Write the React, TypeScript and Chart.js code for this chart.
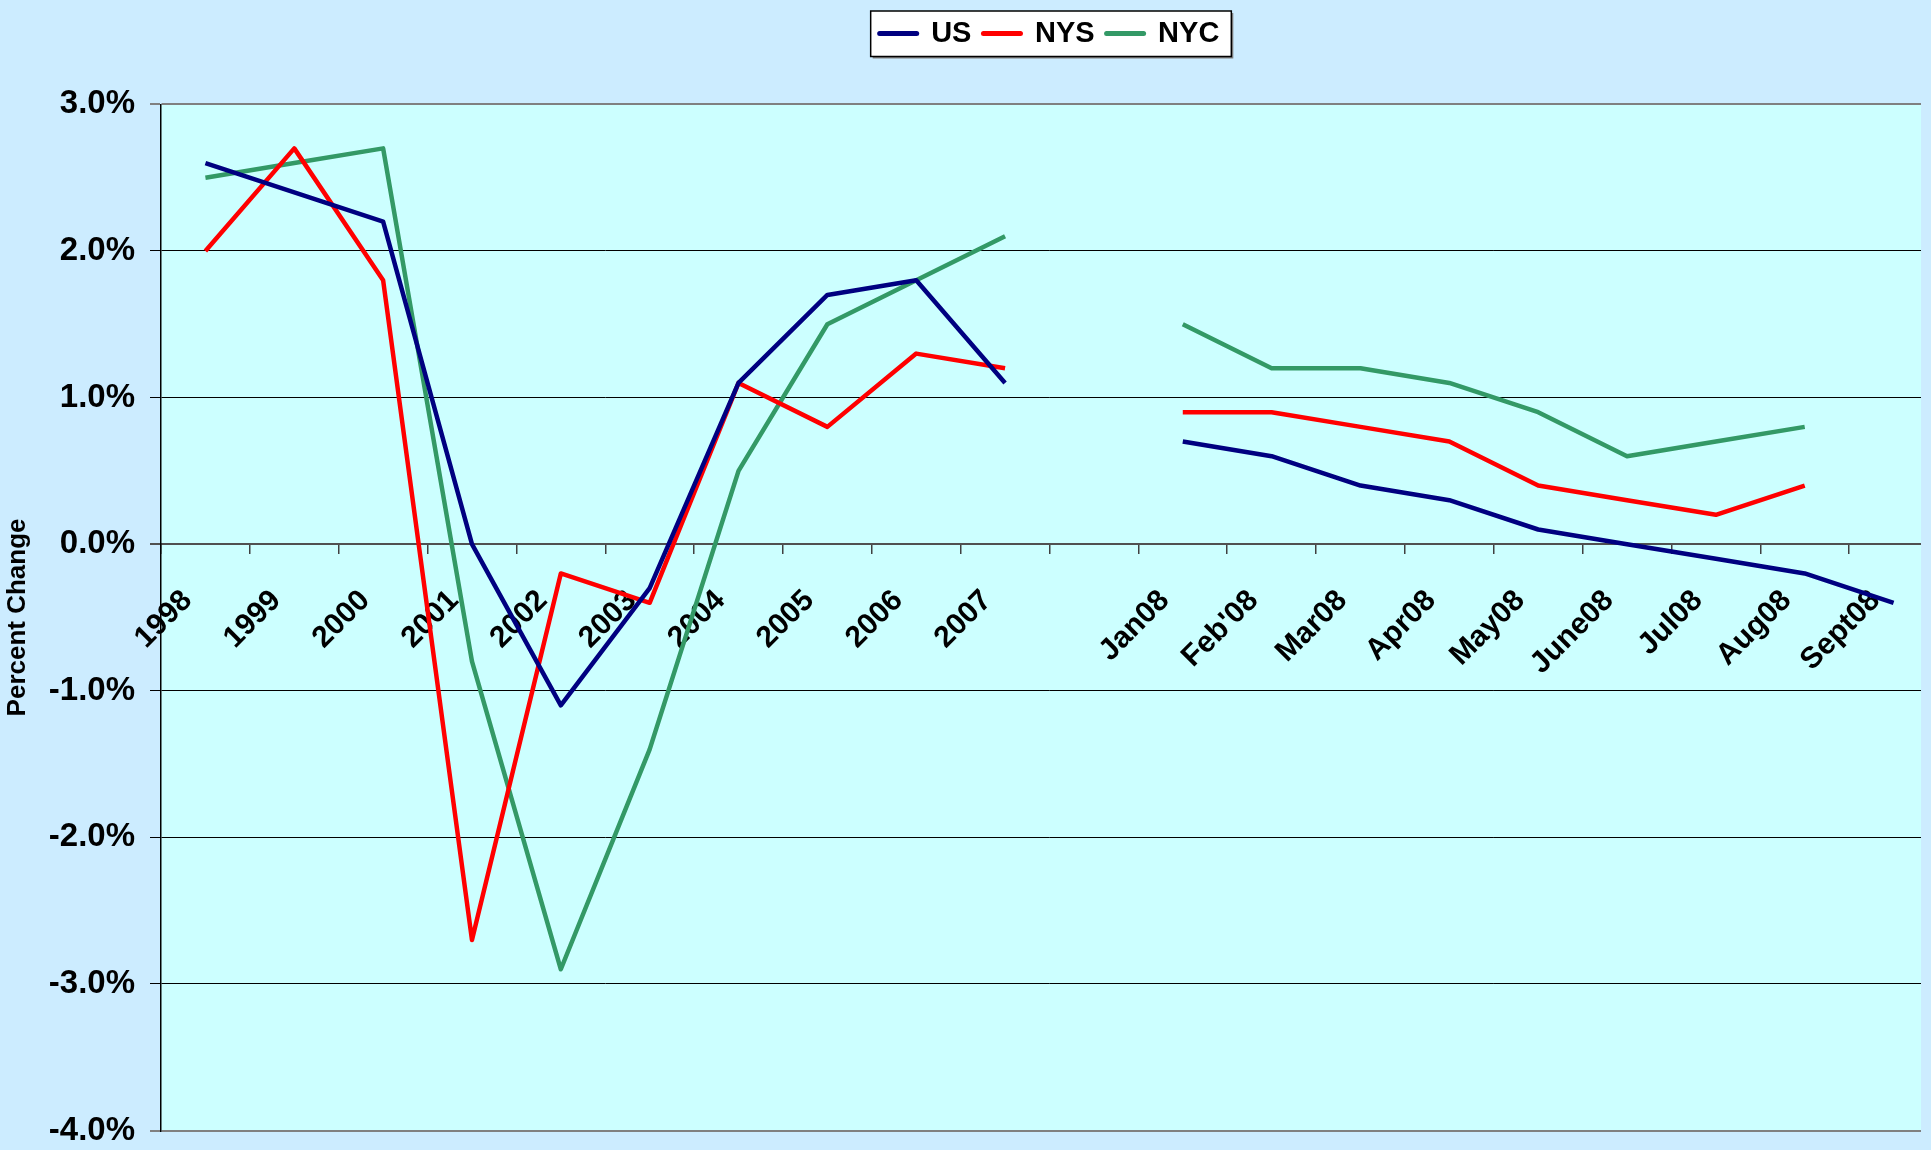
import React, { useEffect, useRef } from 'react';
import { Chart, registerables } from 'chart.js';

Chart.register(...registerables);

const FONT = "'Liberation Sans', Arial, sans-serif";

const categories = ['1998', '1999', '2000', '2001', '2002', '2003', '2004', '2005', '2006', '2007', '', 'Jan08', "Feb'08", 'Mar08', 'Apr08', 'May08', 'June08', 'Jul08', 'Aug08', 'Sept08'];
const usValues = [2.6, 2.4, 2.2, 0.0, -1.1, -0.3, 1.1, 1.7, 1.8, 1.1, null, 0.7, 0.6, 0.4, 0.3, 0.1, 0.0, -0.1, -0.2, -0.4];
const nysValues = [2.0, 2.7, 1.8, -2.7, -0.2, -0.4, 1.1, 0.8, 1.3, 1.2, null, 0.9, 0.9, 0.8, 0.7, 0.4, 0.3, 0.2, 0.4, null];
const nycValues = [2.5, 2.6, 2.7, -0.8, -2.9, -1.4, 0.5, 1.5, 1.8, 2.1, null, 1.5, 1.2, 1.2, 1.1, 0.9, 0.6, 0.7, 0.8, null];
const yMin = -4;
const yMax = 3;
const yStep = 1;

const OUTER_BG = '#CCECFF';
const PLOT_BG = '#CCFFFF';

const bgPlugin = {
  id: 'bgPlugin',
  beforeDraw(chart: any) {
    const { ctx, chartArea: a, width, height } = chart;
    ctx.save();
    ctx.fillStyle = OUTER_BG;
    ctx.fillRect(0, 0, width, height);
    ctx.fillStyle = PLOT_BG;
    ctx.fillRect(a.left, a.top, a.right - a.left, a.bottom - a.top);
    const lg = chart.legend;
    if (lg && lg.legendHitBoxes && lg.legendHitBoxes.length) {
      const hb = lg.legendHitBoxes;
      const last = hb[hb.length - 1];
      const cy = hb[0].top + hb[0].height / 2;
      const l = hb[0].left - 9;
      const r = last.left + last.width + 12;
      const t = cy - 22.5;
      const b = cy + 23;
      ctx.fillStyle = '#808080';
      ctx.fillRect(l + 2, t + 2, r - l, b - t);
      ctx.fillStyle = '#FFFFFF';
      ctx.fillRect(l, t, r - l, b - t);
      ctx.strokeStyle = '#000000';
      ctx.lineWidth = 1.5;
      ctx.strokeRect(l, t, r - l, b - t);
    }
    ctx.restore();
  },
  afterDraw(chart: any) {
    const { ctx, height } = chart;
    ctx.save();
    ctx.fillStyle = OUTER_BG;
    ctx.fillRect(1921, 0, chart.width - 1921, height);
    ctx.restore();
  },
};

export default function App() {
  const ref = useRef<HTMLCanvasElement | null>(null);

  useEffect(() => {
    if (!ref.current) return;
    const chart = new Chart(ref.current, {
      type: 'line',
      data: {
        labels: categories,
        datasets: [
          { label: 'US', data: usValues, borderColor: '#000080', backgroundColor: '#000080', borderWidth: 4.5, pointRadius: 0, tension: 0, spanGaps: false, borderJoinStyle: 'round' },
          { label: 'NYS', data: nysValues, borderColor: '#FF0000', backgroundColor: '#FF0000', borderWidth: 4.5, pointRadius: 0, tension: 0, spanGaps: false, borderJoinStyle: 'round' },
          { label: 'NYC', data: nycValues, borderColor: '#339966', backgroundColor: '#339966', borderWidth: 4.5, pointRadius: 0, tension: 0, spanGaps: false, borderJoinStyle: 'round' },
        ],
      },
      options: {
        responsive: false,
        animation: false,
        devicePixelRatio: 1,
        layout: { padding: { left: 0, right: 0, top: 7, bottom: 19.5 } },
        plugins: {
          tooltip: { enabled: false },
          legend: {
            display: true,
            position: 'top',
            fullSize: false,
            labels: {
              usePointStyle: true,
              pointStyle: 'line',
              pointStyleWidth: 37,
              padding: 12,
              color: '#000',
              font: { size: 29, weight: 'bold', family: FONT },
              generateLabels: (c: any) =>
                (Chart.defaults.plugins.legend.labels.generateLabels as any)(c).map((l: any) => ({
                  ...l,
                  lineWidth: 5,
                  lineCap: 'round',
                  pointStyle: 'line',
                })),
            },
          },
        },
        scales: {
          x: {
            type: 'category',
            position: { y: 0 } as any,
            offset: true,
            grid: {
              display: true,
              drawOnChartArea: false,
              drawTicks: true,
              tickLength: 9,
              offset: true,
              color: '#404040',
              lineWidth: 1.5,
            },
            border: { display: true, color: '#505050', width: 2 },
            ticks: {
              autoSkip: false,
              minRotation: 45,
              maxRotation: 45,
              padding: 30,
              labelOffset: -18,
              color: '#000',
              font: { size: 30, weight: 'bold', family: FONT },
            },
            afterFit: (s: any) => {
              s.height = 0;
              s.paddingLeft = 0;
              s.paddingRight = 0;
            },
          },
          xTop: {
            type: 'category',
            position: 'top',
            display: true,
            grid: { display: false },
            border: { display: false },
            ticks: { display: false },
            afterFit: (s: any) => {
              s.height = 46.4;
              s.paddingLeft = 0;
              s.paddingRight = 0;
            },
          },
          y: {
            type: 'linear',
            position: 'left',
            min: yMin,
            max: yMax,
            ticks: {
              stepSize: yStep,
              padding: 15,
              color: '#000',
              font: { size: 33, weight: 'bold', family: FONT },
              callback: (v: any) => Number(v).toFixed(1) + '%',
            },
            grid: {
              color: (ctx: any) => {
                const v = ctx.tick ? ctx.tick.value : null;
                if (v === yMax || v === yMin) return '#808080';
                if (v === 0) return '#505050';
                return '#000000';
              },
              lineWidth: (ctx: any) => {
                const v = ctx.tick ? ctx.tick.value : null;
                if (v === yMax || v === yMin || v === 0) return 2;
                return 1;
              },
              tickLength: 11,
              drawTicks: true,
            },
            border: { display: true, color: '#000000', width: 1.5 },
            title: {
              display: true,
              text: 'Percent Change',
              color: '#000',
              font: { size: 26, weight: 'bold', family: FONT },
              padding: { top: 2, bottom: 0 },
            },
            afterFit: (s: any) => {
              s.width = 161;
              s.paddingTop = 0;
              s.paddingBottom = 0;
            },
          },
        },
      } as any,
      plugins: [bgPlugin],
    });
    return () => chart.destroy();
  }, []);

  return (
    <div style={{ position: 'fixed', left: 0, top: 0, width: 1931, height: 1150, overflow: 'hidden', background: OUTER_BG }}>
      <canvas ref={ref} width={1938} height={1150} style={{ display: 'block', width: 1938, height: 1150 }} />
    </div>
  );
}
